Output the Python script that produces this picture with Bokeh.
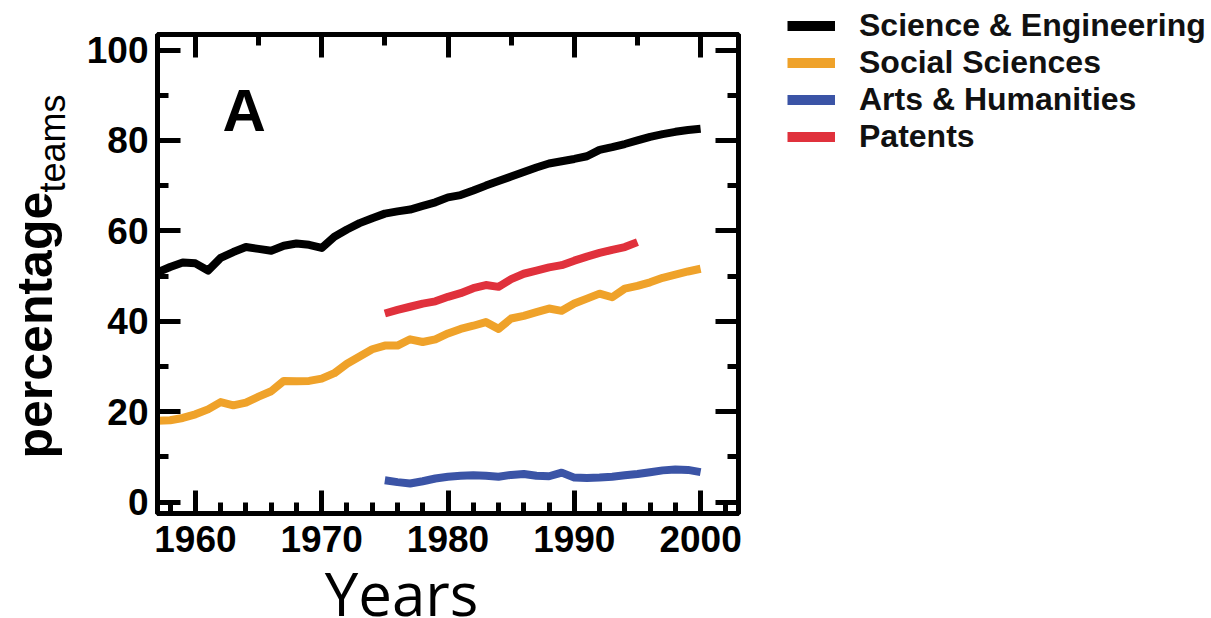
import math
from bokeh.plotting import figure
from bokeh.layouts import row, column
from bokeh.models import Range1d, FixedTicker, LinearAxis, Label, Legend, LegendItem
from bokeh.embed import file_html
from bokeh.resources import INLINE

# ---------------- data ----------------
years_se = list(range(1957, 2001))
science_engineering = [50.8, 52.0, 53.0, 52.8, 51.2, 54.0, 55.3, 56.4, 56.0, 55.6,
                       56.7, 57.2, 56.9, 56.2, 58.7, 60.3, 61.7, 62.8, 63.8, 64.3,
                       64.7, 65.5, 66.3, 67.4, 67.9, 68.9, 70.0, 71.0, 72.0, 73.0,
                       74.0, 74.9, 75.4, 75.9, 76.5, 77.9, 78.5, 79.2, 80.0, 80.8,
                       81.4, 81.9, 82.3, 82.6]

years_ss = list(range(1957, 2001))
social_sciences = [18.0, 18.1, 18.6, 19.4, 20.5, 22.1, 21.4, 22.0, 23.3, 24.5,
                   26.8, 26.7, 26.8, 27.3, 28.5, 30.6, 32.2, 33.8, 34.6, 34.6,
                   36.0, 35.4, 36.0, 37.3, 38.3, 39.0, 39.8, 38.3, 40.6, 41.2,
                   42.0, 42.8, 42.3, 43.9, 45.0, 46.1, 45.3, 47.2, 47.8, 48.6,
                   49.6, 50.3, 51.0, 51.6]

years_ah = list(range(1975, 2001))
arts_humanities = [4.8, 4.4, 4.1, 4.6, 5.2, 5.6, 5.8, 5.9, 5.8, 5.6,
                   6.0, 6.2, 5.8, 5.7, 6.5, 5.4, 5.3, 5.4, 5.6, 5.9,
                   6.2, 6.6, 7.0, 7.2, 7.1, 6.6]

years_pat = list(range(1975, 1996))
patents = [41.7, 42.5, 43.2, 43.9, 44.4, 45.4, 46.2, 47.3, 48.0, 47.6,
           49.3, 50.5, 51.2, 51.9, 52.4, 53.4, 54.3, 55.1, 55.8, 56.4, 57.5]

x_major = [1960, 1970, 1980, 1990, 2000]
x_minor = [1965, 1975, 1985, 1995]
y_major = [0, 20, 40, 60, 80, 100]
y_minor = [10, 30, 50, 70, 90]

series_labels = ["Science & Engineering", "Social Sciences", "Arts & Humanities", "Patents"]
series_colors = ["#000000", "#EFA22A", "#3B54A6", "#E0313C"]

TOP_H = 569
NAN = float("nan")


def blank_fig(w, h):
    f = figure(width=w, height=h, x_range=Range1d(0, w), y_range=Range1d(h, 0),
               output_backend="svg", toolbar_location=None,
               x_axis_location=None, y_axis_location=None, min_border=0,
               frame_align=False)
    f.grid.visible = False
    f.outline_line_color = None
    f.background_fill_color = "white"
    f.border_fill_color = "white"
    return f


# ---------------- main chart ----------------
p = figure(width=685, height=TOP_H,
           x_range=Range1d(1957.0, 2003.0), y_range=Range1d(-2.54, 103.43),
           output_backend="svg", toolbar_location=None,
           min_border_left=74, min_border_right=30,
           min_border_top=34, min_border_bottom=TOP_H - 513,
           frame_align=False)
p.grid.visible = False
p.outline_line_color = "black"
p.outline_line_width = 5
p.background_fill_color = "white"
p.border_fill_color = "white"

xt = FixedTicker(ticks=x_major, minor_ticks=x_minor)
yt = FixedTicker(ticks=y_major, minor_ticks=y_minor)

top_axis = LinearAxis(ticker=xt)
right_axis = LinearAxis(ticker=yt)
p.add_layout(top_axis, "above")
p.add_layout(right_axis, "right")
p.xaxis[0].ticker = xt
p.yaxis[0].ticker = yt


def style_axis(ax, ticks, labels, standoff=9):
    ax.axis_line_width = 5
    ax.axis_line_color = "black"
    ax.major_tick_in = 23
    ax.major_tick_out = 0
    ax.minor_tick_in = 11
    ax.minor_tick_out = 0
    ax.major_tick_line_width = 5
    ax.minor_tick_line_width = 5
    ax.major_tick_line_color = "black"
    ax.minor_tick_line_color = "black"
    if labels:
        ax.major_label_text_font = "Liberation Sans"
        ax.major_label_text_font_style = "bold"
        ax.major_label_text_font_size = "37px"
        ax.major_label_text_color = "black"
        ax.major_label_standoff = standoff
    else:
        ax.major_label_overrides = {t: "" for t in ticks}
        ax.major_label_text_font_size = "8px"
        ax.major_label_standoff = 0


style_axis(p.below[0], x_major, True, standoff=12)
style_axis(p.left[0], y_major, True, standoff=9)
style_axis(top_axis, x_major, False)
style_axis(right_axis, y_major, False)

lw = 8
r_se = p.line(years_se, science_engineering, line_color=series_colors[0], line_width=lw, line_join="round")
r_ss = p.line(years_ss, social_sciences, line_color=series_colors[1], line_width=lw, line_join="round")
r_ah = p.line(years_ah, arts_humanities, line_color=series_colors[2], line_width=lw, line_join="round")
r_pat = p.line(years_pat, patents, line_color=series_colors[3], line_width=lw, line_join="round")

p.add_layout(Label(x=1962.14, y=86.6, text="A", text_font="Liberation Sans",
                   text_font_style="bold", text_font_size="60px",
                   text_align="left", text_baseline="middle", text_color="black"))

# ---------------- y-axis title (left strip) ----------------
ylab = blank_fig(83, TOP_H)
ylab.add_layout(Label(x=34, y=458, angle=math.pi / 2, text="percentage",
                      text_font="Liberation Sans", text_font_style="bold",
                      text_font_size="50px", text_align="left", text_baseline="middle",
                      text_color="black"))
ylab.add_layout(Label(x=52, y=192, angle=math.pi / 2, text="teams",
                      text_font="Liberation Sans", text_font_style="normal",
                      text_font_size="36px", text_align="left", text_baseline="middle",
                      text_color="black"))

# ---------------- legend (right strip) ----------------
leg = blank_fig(443, TOP_H)
dummies = [leg.line([NAN], [NAN], line_color=c, line_width=10) for c in series_colors]
legend = Legend(items=[LegendItem(label=lab, renderers=[r]) for lab, r in zip(series_labels, dummies)],
                location=(19, TOP_H - 155), orientation="vertical",
                glyph_width=48, glyph_height=37, label_height=37,
                label_standoff=24, spacing=0, padding=0, margin=0,
                border_line_alpha=0, background_fill_alpha=0,
                label_text_font="Liberation Sans", label_text_font_style="bold",
                label_text_font_size="32px", label_text_color="#111111")
leg.add_layout(legend)

# ---------------- x-axis title (bottom strip) ----------------
xlab = blank_fig(1211, 618 - TOP_H)
xlab.add_layout(Label(x=401, y=592 - TOP_H, text="Years", text_font="Open Sans",
                      text_font_size="60px", text_align="center", text_baseline="middle",
                      text_color="black"))

layout = column(row(ylab, p, leg, spacing=0), xlab, spacing=0)

open("out.html", "w").write(file_html(layout, INLINE))
